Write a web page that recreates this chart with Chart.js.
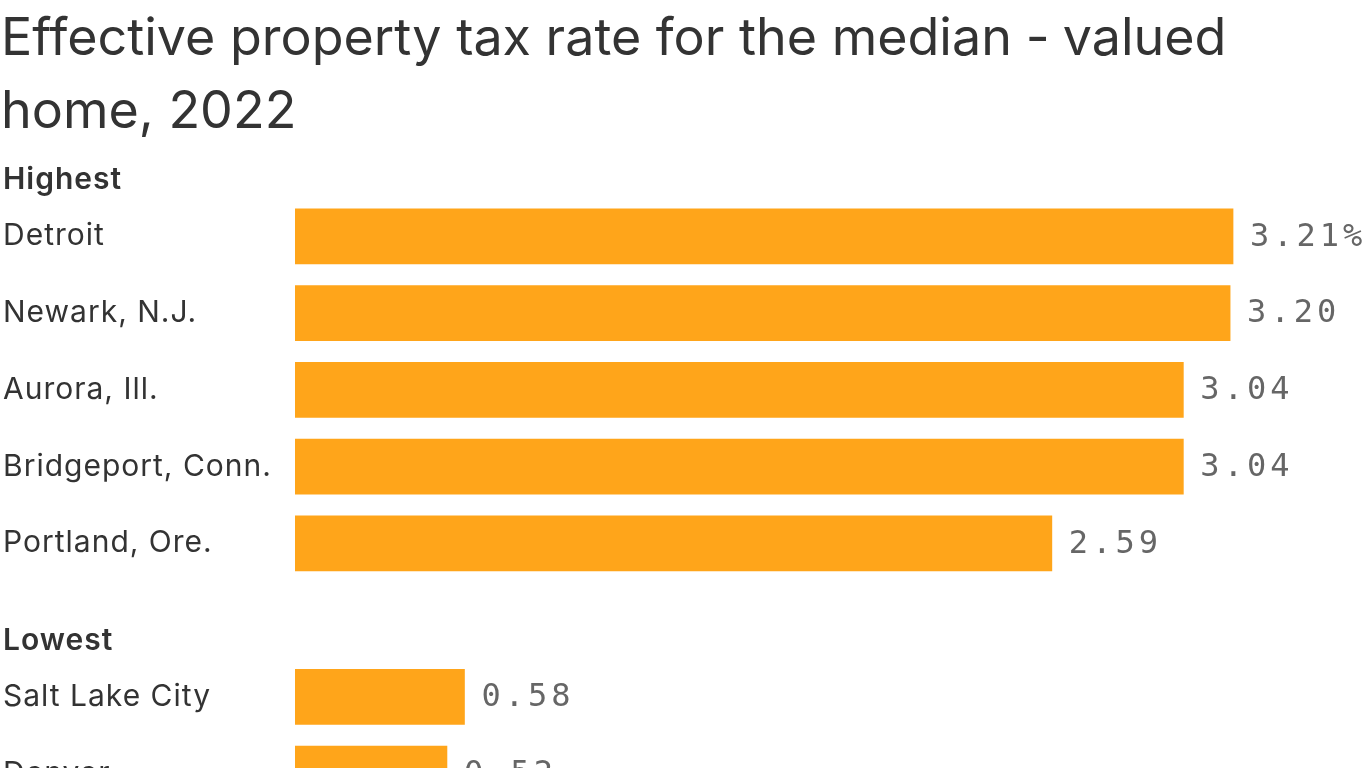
<!DOCTYPE html>
<html>
<head>
<meta charset="utf-8">
<script src="https://cdn.jsdelivr.net/npm/chart.js@4/dist/chart.umd.min.js"></script>
<style>
  html, body { margin: 0; padding: 0; background: #ffffff; overflow: hidden; }
  #wrap { position: relative; width: 1366px; height: 768px; overflow: hidden; }
  #title {
    position: absolute; left: 1px; top: 0px; margin: 0;
    font-family: Inter, "Noto Sans", sans-serif; font-weight: 400;
    font-size: 52px; line-height: 73px; color: #333333; letter-spacing: 0px;
    white-space: nowrap; z-index: 2;
  }
  #title .hy { margin-left: 14px; margin-right: 13px; }
  #c { position: absolute; left: 0; top: 0; }
</style>
</head>
<body>
<div id="wrap">
  <h1 id="title">Effective property tax rate for the median<span class="hy">-</span>valued<br>home, 2022</h1>
  <canvas id="c" width="1366" height="830"></canvas>
</div>
<script>
const categories = ["Detroit", "Newark, N.J.", "Aurora, Ill.", "Bridgeport, Conn.", "Portland, Ore.", "", "Salt Lake City", "Denver"];
const values = [3.21, 3.20, 3.04, 3.04, 2.59, null, 0.58, 0.52];
const groupLabels = ["Highest", "Lowest"];
const groupStarts = [0, 6];

const SANS = 'Inter, "Noto Sans", sans-serif';
const MONO = '"DejaVu Sans Mono", "Liberation Mono", monospace';

const spacing = {
  id: 'spacing',
  beforeDraw(chart) {
    try { chart.ctx.letterSpacing = '1px'; } catch (e) {}
  }
};

const groupHeaders = {
  id: 'groupHeaders',
  afterDraw(chart) {
    const ctx = chart.ctx;
    const y = chart.scales.y;
    ctx.save();
    ctx.font = '600 30px ' + SANS;
    try { ctx.letterSpacing = '1px'; } catch (e) {}
    ctx.fillStyle = '#333333';
    ctx.textAlign = 'left';
    ctx.textBaseline = 'alphabetic';
    groupLabels.forEach((g, i) => {
      const cy = y.getPixelForValue(groupStarts[i]);
      ctx.fillText(g, 3, cy - 47);
    });
    ctx.restore();
  }
};

const valueLabels = {
  id: 'valueLabels',
  afterDatasetsDraw(chart) {
    const ctx = chart.ctx;
    const meta = chart.getDatasetMeta(0);
    ctx.save();
    ctx.font = '32px ' + MONO;
    ctx.fillStyle = '#666666';
    ctx.textAlign = 'left';
    ctx.textBaseline = 'middle';
    try { ctx.letterSpacing = '4px'; } catch (e) {}
    meta.data.forEach((bar, i) => {
      const v = values[i];
      if (v === null || v === undefined) return;
      const txt = v.toFixed(2) + (i === 0 ? '%' : '');
      ctx.fillText(txt, bar.x + 17, bar.y + 1);
    });
    ctx.restore();
  }
};

new Chart(document.getElementById('c'), {
  type: 'bar',
  data: {
    labels: categories,
    datasets: [{
      data: values,
      backgroundColor: '#FFA51A',
      borderWidth: 0,
      barThickness: 55,
      categoryPercentage: 1,
      barPercentage: 1
    }]
  },
  options: {
    indexAxis: 'y',
    responsive: false,
    animation: false,
    layout: { padding: { left: 3, right: 0, top: 198, bottom: 14 } },
    plugins: { legend: { display: false }, tooltip: { enabled: false }, title: { display: false } },
    scales: {
      x: { display: false, min: 0, max: 3.665 },
      y: {
        grid: { display: false, drawTicks: false },
        border: { display: false },
        ticks: {
          crossAlign: 'far',
          padding: 0,
          color: '#333333',
          font: { family: SANS, size: 30, weight: '400' }
        },
        afterFit(scale) { scale.width = 292; }
      }
    }
  },
  plugins: [spacing, groupHeaders, valueLabels]
});
</script>
</body>
</html>
